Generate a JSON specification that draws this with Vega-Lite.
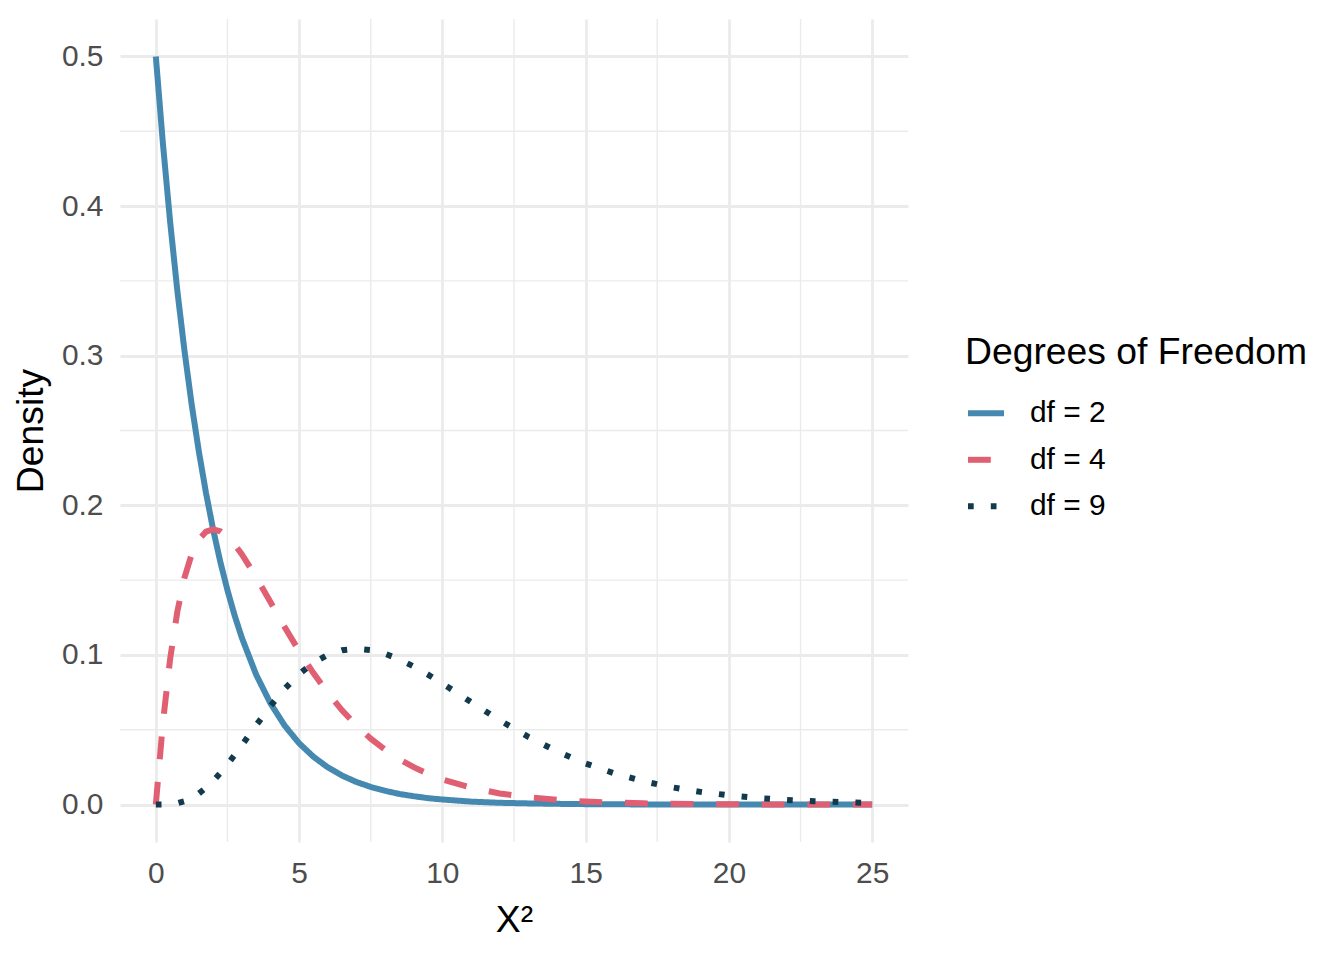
{
  "$schema": "https://vega.github.io/schema/vega-lite/v6.json",
  "width": 788,
  "height": 823,
  "autosize": "none",
  "padding": {"left": 120, "top": 19, "right": 436, "bottom": 118},
  "background": "#FFFFFF",
  "config": {
    "font": "Liberation Sans",
    "view": {"stroke": null}
  },
  "datasets": {
    "minorx": [{"x": 2.5}, {"x": 7.5}, {"x": 12.5}, {"x": 17.5}, {"x": 22.5}],
    "minory": [{"d": 0.05}, {"d": 0.15}, {"d": 0.25}, {"d": 0.35}, {"d": 0.45}],
    "curves": [
      {"df": "df = 2", "x": 0, "d": 0.5},
      {"df": "df = 2", "x": 0.25, "d": 0.4412},
      {"df": "df = 2", "x": 0.5, "d": 0.3894},
      {"df": "df = 2", "x": 0.75, "d": 0.3436},
      {"df": "df = 2", "x": 1, "d": 0.3033},
      {"df": "df = 2", "x": 1.25, "d": 0.2676},
      {"df": "df = 2", "x": 1.5, "d": 0.2362},
      {"df": "df = 2", "x": 1.75, "d": 0.2084},
      {"df": "df = 2", "x": 2, "d": 0.1839},
      {"df": "df = 2", "x": 2.25, "d": 0.1623},
      {"df": "df = 2", "x": 2.5, "d": 0.1433},
      {"df": "df = 2", "x": 2.75, "d": 0.1264},
      {"df": "df = 2", "x": 3, "d": 0.1116},
      {"df": "df = 2", "x": 3.5, "d": 0.0869},
      {"df": "df = 2", "x": 4, "d": 0.0677},
      {"df": "df = 2", "x": 4.5, "d": 0.0527},
      {"df": "df = 2", "x": 5, "d": 0.041},
      {"df": "df = 2", "x": 5.5, "d": 0.032},
      {"df": "df = 2", "x": 6, "d": 0.0249},
      {"df": "df = 2", "x": 6.5, "d": 0.0194},
      {"df": "df = 2", "x": 7, "d": 0.0151},
      {"df": "df = 2", "x": 7.5, "d": 0.0118},
      {"df": "df = 2", "x": 8, "d": 0.0092},
      {"df": "df = 2", "x": 8.5, "d": 0.0071},
      {"df": "df = 2", "x": 9, "d": 0.0056},
      {"df": "df = 2", "x": 9.5, "d": 0.0043},
      {"df": "df = 2", "x": 10, "d": 0.0034},
      {"df": "df = 2", "x": 11, "d": 0.002},
      {"df": "df = 2", "x": 12, "d": 0.0012},
      {"df": "df = 2", "x": 13, "d": 0.0008},
      {"df": "df = 2", "x": 14, "d": 0.0005},
      {"df": "df = 2", "x": 15, "d": 0.0003},
      {"df": "df = 2", "x": 16, "d": 0.0002},
      {"df": "df = 2", "x": 17, "d": 0.0001},
      {"df": "df = 2", "x": 18, "d": 0.0001},
      {"df": "df = 2", "x": 19, "d": 0.00004},
      {"df": "df = 2", "x": 20, "d": 0.00002},
      {"df": "df = 2", "x": 21, "d": 0.00001},
      {"df": "df = 2", "x": 22, "d": 0.00001},
      {"df": "df = 2", "x": 23, "d": 0.00001},
      {"df": "df = 2", "x": 24, "d": 0},
      {"df": "df = 2", "x": 25, "d": 0},
      {"df": "df = 4", "x": 0, "d": 0},
      {"df": "df = 4", "x": 0.25, "d": 0.05516},
      {"df": "df = 4", "x": 0.5, "d": 0.09735},
      {"df": "df = 4", "x": 0.75, "d": 0.12887},
      {"df": "df = 4", "x": 1, "d": 0.15163},
      {"df": "df = 4", "x": 1.25, "d": 0.16727},
      {"df": "df = 4", "x": 1.5, "d": 0.17714},
      {"df": "df = 4", "x": 1.75, "d": 0.18238},
      {"df": "df = 4", "x": 2, "d": 0.18394},
      {"df": "df = 4", "x": 2.25, "d": 0.18262},
      {"df": "df = 4", "x": 2.5, "d": 0.17907},
      {"df": "df = 4", "x": 2.75, "d": 0.17383},
      {"df": "df = 4", "x": 3, "d": 0.16735},
      {"df": "df = 4", "x": 3.5, "d": 0.15205},
      {"df": "df = 4", "x": 4, "d": 0.13534},
      {"df": "df = 4", "x": 4.5, "d": 0.11857},
      {"df": "df = 4", "x": 5, "d": 0.10261},
      {"df": "df = 4", "x": 5.5, "d": 0.0879},
      {"df": "df = 4", "x": 6, "d": 0.07468},
      {"df": "df = 4", "x": 6.5, "d": 0.06301},
      {"df": "df = 4", "x": 7, "d": 0.05284},
      {"df": "df = 4", "x": 7.5, "d": 0.0441},
      {"df": "df = 4", "x": 8, "d": 0.03663},
      {"df": "df = 4", "x": 8.5, "d": 0.03031},
      {"df": "df = 4", "x": 9, "d": 0.025},
      {"df": "df = 4", "x": 9.5, "d": 0.02055},
      {"df": "df = 4", "x": 10, "d": 0.01684},
      {"df": "df = 4", "x": 11, "d": 0.01124},
      {"df": "df = 4", "x": 12, "d": 0.00744},
      {"df": "df = 4", "x": 13, "d": 0.00489},
      {"df": "df = 4", "x": 14, "d": 0.00319},
      {"df": "df = 4", "x": 15, "d": 0.00207},
      {"df": "df = 4", "x": 16, "d": 0.00134},
      {"df": "df = 4", "x": 17, "d": 0.00086},
      {"df": "df = 4", "x": 18, "d": 0.00055},
      {"df": "df = 4", "x": 19, "d": 0.00036},
      {"df": "df = 4", "x": 20, "d": 0.00023},
      {"df": "df = 4", "x": 21, "d": 0.00014},
      {"df": "df = 4", "x": 22, "d": 0.00009},
      {"df": "df = 4", "x": 23, "d": 0.00006},
      {"df": "df = 4", "x": 24, "d": 0.00004},
      {"df": "df = 4", "x": 25, "d": 0.00002},
      {"df": "df = 9", "x": 0, "d": 0},
      {"df": "df = 9", "x": 0.25, "d": 0.0000262},
      {"df": "df = 9", "x": 0.5, "d": 0.000262},
      {"df": "df = 9", "x": 0.75, "d": 0.000954},
      {"df": "df = 9", "x": 1, "d": 0.002304},
      {"df": "df = 9", "x": 1.25, "d": 0.004441},
      {"df": "df = 9", "x": 1.5, "d": 0.007418},
      {"df": "df = 9", "x": 1.75, "d": 0.011229},
      {"df": "df = 9", "x": 2, "d": 0.015813},
      {"df": "df = 9", "x": 2.25, "d": 0.021075},
      {"df": "df = 9", "x": 2.5, "d": 0.026893},
      {"df": "df = 9", "x": 2.75, "d": 0.03313},
      {"df": "df = 9", "x": 3, "d": 0.039646},
      {"df": "df = 9", "x": 3.5, "d": 0.052959},
      {"df": "df = 9", "x": 4, "d": 0.065817},
      {"df": "df = 9", "x": 4.5, "d": 0.077411},
      {"df": "df = 9", "x": 5, "d": 0.087172},
      {"df": "df = 9", "x": 5.5, "d": 0.094772},
      {"df": "df = 9", "x": 6, "d": 0.100083},
      {"df": "df = 9", "x": 6.5, "d": 0.103146},
      {"df": "df = 9", "x": 7, "d": 0.104117},
      {"df": "df = 9", "x": 7.5, "d": 0.103236},
      {"df": "df = 9", "x": 8, "d": 0.100776},
      {"df": "df = 9", "x": 8.5, "d": 0.097034},
      {"df": "df = 9", "x": 9, "d": 0.092307},
      {"df": "df = 9", "x": 9.5, "d": 0.086868},
      {"df": "df = 9", "x": 10, "d": 0.080955},
      {"df": "df = 9", "x": 11, "d": 0.068548},
      {"df": "df = 9", "x": 12, "d": 0.05638},
      {"df": "df = 9", "x": 13, "d": 0.045235},
      {"df": "df = 9", "x": 14, "d": 0.035572},
      {"df": "df = 9", "x": 15, "d": 0.027468},
      {"df": "df = 9", "x": 16, "d": 0.020882},
      {"df": "df = 9", "x": 17, "d": 0.01566},
      {"df": "df = 9", "x": 18, "d": 0.011601},
      {"df": "df = 9", "x": 19, "d": 0.008503},
      {"df": "df = 9", "x": 20, "d": 0.006171},
      {"df": "df = 9", "x": 21, "d": 0.00444},
      {"df": "df = 9", "x": 22, "d": 0.003169},
      {"df": "df = 9", "x": 23, "d": 0.002246},
      {"df": "df = 9", "x": 24, "d": 0.001581},
      {"df": "df = 9", "x": 25, "d": 0.001106}
    ]
  },
  "layer": [
    {
      "data": {"name": "minorx"},
      "mark": {"type": "rule", "color": "#EBEBEB", "strokeWidth": 1.4},
      "encoding": {
        "x": {
          "field": "x",
          "type": "quantitative",
          "scale": {"domain": [-1.25, 26.25], "nice": false, "zero": false},
          "axis": {
            "values": [0, 5, 10, 15, 20, 25],
            "grid": true,
            "gridColor": "#EBEBEB",
            "gridWidth": 2.8,
            "domain": false,
            "ticks": false,
            "tickSize": 0,
            "labelPadding": 16,
            "labelFontSize": 29.9,
            "labelColor": "#4D4D4D",
            "title": "X²",
            "titleFontSize": 37.3,
            "titleFontWeight": "normal",
            "titleColor": "#000000",
            "titlePadding": 15
          }
        }
      }
    },
    {
      "data": {"name": "minory"},
      "mark": {"type": "rule", "color": "#EBEBEB", "strokeWidth": 1.4},
      "encoding": {
        "y": {
          "field": "d",
          "type": "quantitative",
          "scale": {"domain": [-0.025, 0.525], "nice": false, "zero": false},
          "axis": {
            "values": [0, 0.1, 0.2, 0.3, 0.4, 0.5],
            "format": ".1f",
            "grid": true,
            "gridColor": "#EBEBEB",
            "gridWidth": 2.8,
            "domain": false,
            "ticks": false,
            "tickSize": 0,
            "labelPadding": 17,
            "labelFontSize": 29.9,
            "labelColor": "#4D4D4D",
            "title": "Density",
            "titleFontSize": 37.3,
            "titleFontWeight": "normal",
            "titleColor": "#000000",
            "titlePadding": 11
          }
        }
      }
    },
    {
      "data": {"name": "curves"},
      "mark": {"type": "line", "strokeWidth": 6, "strokeCap": "butt"},
      "encoding": {
        "x": {
          "field": "x",
          "type": "quantitative",
          "scale": {"domain": [-1.25, 26.25], "nice": false, "zero": false},
          "axis": {
            "values": [0, 5, 10, 15, 20, 25],
            "grid": true,
            "gridColor": "#EBEBEB",
            "gridWidth": 2.8,
            "domain": false,
            "ticks": false,
            "tickSize": 0,
            "labelPadding": 16,
            "labelFontSize": 29.9,
            "labelColor": "#4D4D4D",
            "title": "X²",
            "titleFontSize": 37.3,
            "titleFontWeight": "normal",
            "titleColor": "#000000",
            "titlePadding": 15
          }
        },
        "y": {
          "field": "d",
          "type": "quantitative",
          "scale": {"domain": [-0.025, 0.525], "nice": false, "zero": false},
          "axis": {
            "values": [0, 0.1, 0.2, 0.3, 0.4, 0.5],
            "format": ".1f",
            "grid": true,
            "gridColor": "#EBEBEB",
            "gridWidth": 2.8,
            "domain": false,
            "ticks": false,
            "tickSize": 0,
            "labelPadding": 17,
            "labelFontSize": 29.9,
            "labelColor": "#4D4D4D",
            "title": "Density",
            "titleFontSize": 37.3,
            "titleFontWeight": "normal",
            "titleColor": "#000000",
            "titlePadding": 11
          }
        },
        "color": {
          "field": "df",
          "type": "nominal",
          "scale": {
            "domain": ["df = 2", "df = 4", "df = 9"],
            "range": ["#4589B0", "#E15F72", "#133A4C"]
          },
          "legend": {
            "title": "Degrees of Freedom",
            "orient": "none",
            "legendX": 845,
            "legendY": 316,
            "padding": 0,
            "titleFontSize": 37.3,
            "titleFontWeight": "normal",
            "titleColor": "#000000",
            "titlePadding": 20,
            "titleLimit": 600,
            "labelFontSize": 29.9,
            "labelColor": "#000000",
            "labelOffset": 23,
            "labelLimit": 300,
            "symbolType": "stroke",
            "symbolSize": 1296,
            "symbolStrokeWidth": 6,
            "rowPadding": 10.5
          }
        },
        "strokeDash": {
          "field": "df",
          "type": "nominal",
          "scale": {
            "domain": ["df = 2", "df = 4", "df = 9"],
            "range": [[1, 0], [22.8, 22.8], [5.7, 17.1]]
          },
          "legend": {
            "title": "Degrees of Freedom",
            "orient": "none",
            "legendX": 845,
            "legendY": 316,
            "padding": 0,
            "titleFontSize": 37.3,
            "titleFontWeight": "normal",
            "titleColor": "#000000",
            "titlePadding": 20,
            "titleLimit": 600,
            "labelFontSize": 29.9,
            "labelColor": "#000000",
            "labelOffset": 23,
            "labelLimit": 300,
            "symbolType": "stroke",
            "symbolSize": 1296,
            "symbolStrokeWidth": 6,
            "rowPadding": 10.5
          }
        }
      }
    }
  ]
}
